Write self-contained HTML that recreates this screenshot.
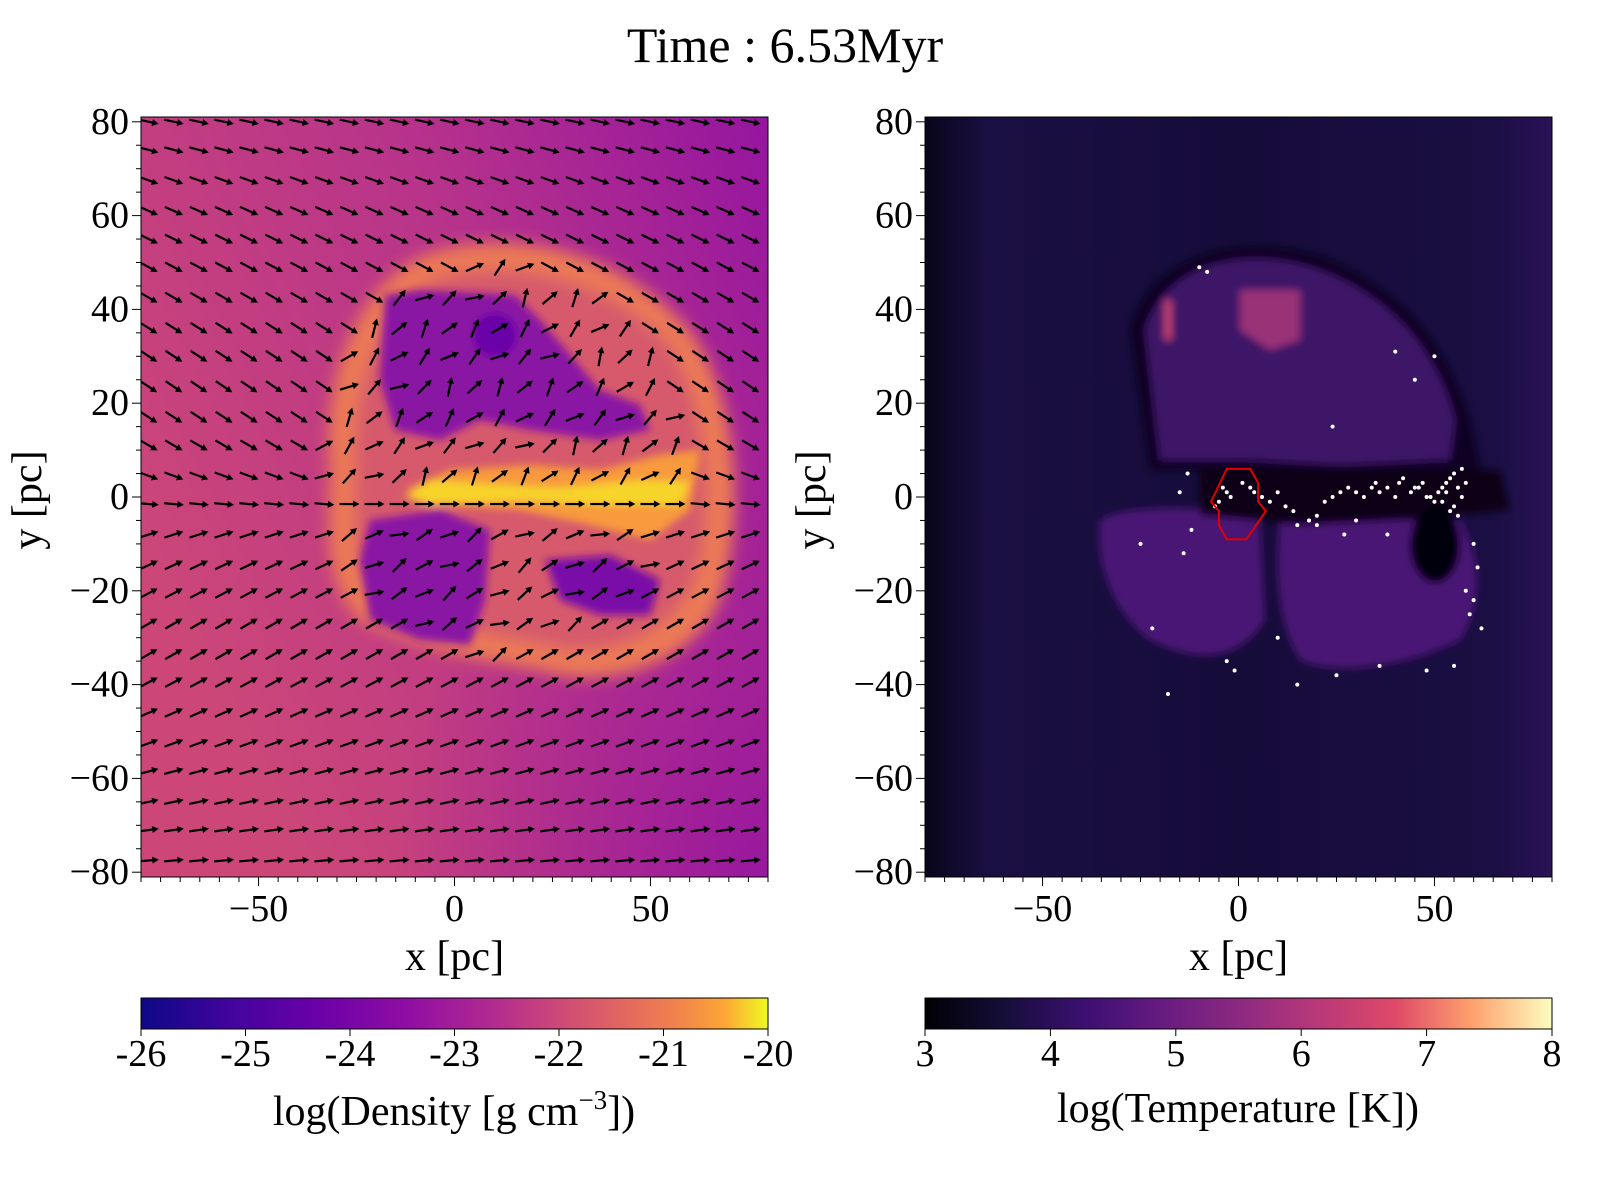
<!DOCTYPE html>
<html><head><meta charset="utf-8"><style>
html,body{margin:0;padding:0;background:#fff;}
svg{display:block;font-family:"Liberation Serif",serif;}
</style></head><body>
<svg id="fig" width="1600" height="1200" viewBox="0 0 1600 1200" xmlns="http://www.w3.org/2000/svg">
<defs>
<linearGradient id="plasma" x1="0" x2="1" y1="0" y2="0">
<stop offset="0" stop-color="#0d0887"/><stop offset="0.14" stop-color="#41049d"/><stop offset="0.28" stop-color="#6a00a8"/><stop offset="0.42" stop-color="#8f0da4"/><stop offset="0.56" stop-color="#b12a90"/><stop offset="0.66" stop-color="#cc4778"/><stop offset="0.76" stop-color="#e16462"/><stop offset="0.86" stop-color="#f2844b"/><stop offset="0.93" stop-color="#fca636"/><stop offset="1" stop-color="#f0f921"/></linearGradient>
<linearGradient id="magma" x1="0" x2="1" y1="0" y2="0">
<stop offset="0" stop-color="#000004"/><stop offset="0.12" stop-color="#140e36"/><stop offset="0.25" stop-color="#3b0f70"/><stop offset="0.37" stop-color="#641a80"/><stop offset="0.5" stop-color="#8c2981"/><stop offset="0.62" stop-color="#b73779"/><stop offset="0.75" stop-color="#de4968"/><stop offset="0.87" stop-color="#fe9f6d"/><stop offset="1" stop-color="#fcfdbf"/></linearGradient>
<linearGradient id="denBg" x1="0" y1="0.6" x2="1" y2="0">
<stop offset="0" stop-color="#cc4778"/><stop offset="0.55" stop-color="#b8348a"/><stop offset="1" stop-color="#9515a0"/></linearGradient>
<radialGradient id="denBR" cx="1" cy="1" r="0.6">
<stop offset="0" stop-color="#9515a0" stop-opacity="0.9"/><stop offset="1" stop-color="#9515a0" stop-opacity="0"/></radialGradient>
<linearGradient id="tempBg" x1="0" x2="1" y1="0" y2="0">
<stop offset="0" stop-color="#08051a"/><stop offset="0.1" stop-color="#1a0f42"/><stop offset="0.5" stop-color="#160c3a"/><stop offset="0.9" stop-color="#1a0e42"/><stop offset="1" stop-color="#2a1258"/></linearGradient>
<filter id="blur8" x="-30%" y="-30%" width="160%" height="160%"><feGaussianBlur stdDeviation="8"/></filter>
<filter id="blur4" x="-30%" y="-30%" width="160%" height="160%"><feGaussianBlur stdDeviation="4"/></filter>
<clipPath id="clipL"><rect x="141" y="117" width="627" height="760"/></clipPath>
<clipPath id="clipR"><rect x="925" y="117" width="627" height="760"/></clipPath>
</defs>
<text x="785" y="62" font-size="50" text-anchor="middle">Time : 6.53Myr</text>

<g clip-path="url(#clipL)">
<rect x="141" y="117" width="627" height="760" fill="url(#denBg)"/>
<rect x="141" y="117" width="627" height="760" fill="url(#denBR)"/>
<g filter="url(#blur8)">
<path d="M330,470 C320,380 360,270 440,250 C520,230 620,250 690,330 C740,400 745,520 720,600 C690,670 600,690 540,670 C480,660 420,650 360,620 C320,580 330,520 330,470 Z" fill="#ec7a55"/>
<path d="M355,470 C350,390 380,290 450,275 C520,260 610,280 670,345 C710,410 715,510 695,580 C670,640 600,660 545,645 C490,635 430,625 380,600 C350,570 355,520 355,470 Z" fill="#d65a6c"/>
</g>
<g filter="url(#blur4)">
<polygon points="385,295 420,290 515,295 540,320 600,390 640,405 650,430 600,440 530,430 480,420 440,440 395,430 380,380" fill="#8a12a4"/>
<circle cx="495" cy="335" r="22" fill="#6a00a8"/>
<polygon points="370,520 440,510 490,530 485,600 470,645 420,640 370,620 360,560" fill="#8a12a4"/>
<polygon points="545,560 610,555 660,580 650,615 600,615 560,600" fill="#7a08a8"/>
<polygon points="405,490 450,470 530,465 600,470 660,455 700,450 690,510 650,540 590,525 520,510 450,505" fill="#f89a3e"/>
<polygon points="405,497 430,480 500,485 560,488 640,480 690,482 680,505 600,505 520,500 430,505" fill="#f7d42a"/>
</g>
<g id="quiver"></g>
</g>
<rect x="141" y="117" width="627" height="760" fill="none" stroke="#000" stroke-width="1"/>

<g clip-path="url(#clipR)">
<rect x="925" y="117" width="627" height="760" fill="url(#tempBg)"/>
<g filter="url(#blur4)">
<path d="M1130,330 C1150,250 1250,230 1330,260 C1420,300 1450,360 1470,420 L1480,470 L1350,480 L1250,470 L1150,470 Z" fill="#0c0620"/>
<path d="M1145,330 C1165,260 1250,245 1320,270 C1400,300 1440,360 1455,420 L1450,460 L1340,465 L1250,460 L1160,460 Z" fill="#3e1468"/>
<path d="M1240,290 L1300,290 L1300,340 L1270,350 L1240,330 Z" fill="#9a3078"/>
<rect x="1164" y="300" width="8" height="40" fill="#c04070"/>
<path d="M1100,520 C1120,505 1200,505 1260,515 L1265,620 C1240,660 1200,665 1150,640 C1110,610 1095,560 1100,520 Z" fill="#4a1474"/>
<path d="M1280,520 L1460,520 C1485,560 1480,610 1460,640 C1400,670 1330,675 1300,660 C1275,620 1275,560 1280,520 Z" fill="#4a1474"/>
<path d="M1200,470 L1500,470 L1510,510 L1400,520 L1300,525 L1200,515 Z" fill="#080414"/>
<ellipse cx="1435" cy="545" rx="25" ry="38" fill="#050210"/>
</g>
<g id="stars"></g>
<polygon id="hexagon" fill="none" stroke="#e00000" stroke-width="2"/>
</g>
<rect x="925" y="117" width="627" height="760" fill="none" stroke="#000" stroke-width="1"/>

<g id="axes"></g>

<rect x="141" y="998" width="627" height="31" fill="url(#plasma)" stroke="#000" stroke-width="1"/>
<rect x="925" y="998" width="627" height="31" fill="url(#magma)" stroke="#000" stroke-width="1"/>
<g id="cbticks"></g>
<text x="454" y="1125" font-size="42" text-anchor="middle">log(Density [g cm<tspan font-size="27" dy="-16">−3</tspan><tspan dy="16">])</tspan></text>
<text x="1238" y="1122" font-size="42" text-anchor="middle">log(Temperature [K])</text>
</svg>
<script>
const NS="http://www.w3.org/2000/svg";
const xTicks=[-50,0,50];
const yTicks=[-80,-60,-40,-20,0,20,40,60,80];
const densTicks=[-26,-25,-24,-23,-22,-21,-20];
const tempTicks=[3,4,5,6,7,8];
const rowY=[80,74,67.5,61,55,49,42.5,36,30,23.5,17,11,4.5,-1.5,-8,-14.5,-20.5,-27,-33.5,-39.5,-46,-52.5,-58.5,-65,-71,-77.5];
const rowAngle=[12,15,20,24,26,28,30,32,33,34,33,30,20,5,-18,-25,-28,-30,-30,-28,-24,-20,-15,-12,-8,-5];
const colX=[-78,-71.6,-65.2,-58.8,-52.4,-46,-39.6,-33.2,-26.8,-20.4,-14,-7.6,-1.2,5.2,11.6,18,24.4,30.8,37.2,43.6,50,56.4,62.8,69.2,75.6];
const starX=[-4,-3,-2,-5,-6,1,3,4,6,8,10,12,14,15,18,20,22,24,26,28,30,32,34,35,36,38,40,41,42,44,45,46,47,48,50,51,52,53,54,55,56,57,55,54,56,53,57,58,52,49,-13,-15,-14,-25,-22,-18,-1,10,15,25,36,48,55,58,60,59,61,-10,-8,30,38,60,62,50,45,24,40,18,-12,-3,20,27];
const starY=[2,1,0,-1,-2,3,2,1,0,-1,1,-2,-3,-6,-5,-4,-1,0,1,2,1,0,2,3,1,2,0,3,4,1,2,2,3,0,-1,1,2,3,4,5,2,0,-2,-3,-4,1,6,3,-1,0,5,1,-12,-10,-28,-42,-37,-30,-40,-38,-36,-37,-36,-20,-10,-25,-15,49,48,-5,-8,-22,-28,30,25,15,31,-5,-7,-35,-6,-8];
const hexX=[-3,3,5,5,7,2,-3,-5,-5,-7];
const hexY=[6,6,3,-1,-3,-9,-9,-6,-3,-1];

const X0L=454.5,X0R=1238.5,XS=627/160,Y0=497,YS=4.69;
const xL=v=>X0L+v*XS, xR=v=>X0R+v*XS, yP=v=>Y0-v*YS;

const q=document.getElementById('quiver');
rowY.forEach((ry,ri)=>{colX.forEach((cx,ci)=>{
  let a=rowAngle[ri];
  const inBub=((cx-12)/46)**2+((ry-8)/42)**2<1;
  if(inBub){a = ry>3 ? -80+((ci*37+ri*13)%70) : (ry>-6? 0 : -50+((ci*17+ri*7)%45));}
  const r=a*Math.PI/180, L=10;
  const px=xL(cx), py=yP(ry);
  const dx=Math.cos(r)*L, dy=Math.sin(r)*L;
  const l=document.createElementNS(NS,'line');
  
  
  l.setAttribute('x1',px-dx);l.setAttribute('y1',py-dy);l.setAttribute('x2',px+dx*0.5);l.setAttribute('y2',py+dy*0.5);
  l.setAttribute('stroke','#000');l.setAttribute('stroke-width','2.2');
  q.appendChild(l);
  const h=document.createElementNS(NS,'polygon');
  
  
  const tx=px+dx, ty=py+dy, bx=px+dx*0.35, by=py+dy*0.35, nx=-Math.sin(r)*3.5, ny=Math.cos(r)*3.5;
  h.setAttribute('points',`${tx},${ty} ${bx+nx},${by+ny} ${bx-nx},${by-ny}`);
  q.appendChild(h);
});});

const st=document.getElementById('stars');
starX.forEach((sx,i)=>{
  const c=document.createElementNS(NS,'circle');
  
  
  c.setAttribute('cx',xR(sx));c.setAttribute('cy',yP(starY[i]));c.setAttribute('r','2');c.setAttribute('fill','#fff');
  st.appendChild(c);
});
document.getElementById('hexagon').setAttribute('points',hexX.map((h,i)=>xR(h)+','+yP(hexY[i])).join(' '));

const ax=document.getElementById('axes');
function add(tag,attrs,txt){const e=document.createElementNS(NS,tag);for(const k in attrs)e.setAttribute(k,attrs[k]);if(txt!==undefined)e.textContent=txt;ax.appendChild(e);return e;}
[[xL,141],[xR,925]].forEach(([fx,left],pi)=>{
  for(let v=-80;v<=80;v+=5){const m=v%50===0;const t=add('line',{x1:fx(v),x2:fx(v),y1:877,y2:877+(m?9:5),stroke:'#000'});}
  for(let v=-80;v<=80;v+=5){const m=v%20===0;const t=add('line',{x1:left,x2:left-(m?9:5),y1:yP(v),y2:yP(v),stroke:'#000'});}
  xTicks.forEach(v=>{const t=add('text',{x:fx(v),y:921,'font-size':38,'text-anchor':'middle'},v<0?'−'+(-v):String(v));});
  yTicks.forEach(v=>{const t=add('text',{x:left-12,y:yP(v)+12,'font-size':38,'text-anchor':'end'},v<0?'−'+(-v):String(v));});
  const xl=add('text',{x:fx(0),y:970,'font-size':42,'text-anchor':'middle'},'x [pc]');
  const yx=left-100;
  const yl=add('text',{x:yx,y:500,'font-size':42,'text-anchor':'middle',transform:`rotate(-90 ${yx} 500)`},'y [pc]');
});
const cb=document.getElementById('cbticks');
function cbt(ticks,lo,hi,left){ticks.forEach(v=>{const x=left+(v-lo)/(hi-lo)*627;
  const l=document.createElementNS(NS,'line');
  
  
  l.setAttribute('x1',x);l.setAttribute('x2',x);l.setAttribute('y1',1029);l.setAttribute('y2',1036);l.setAttribute('stroke','#000');cb.appendChild(l);
  const t=document.createElementNS(NS,'text');
  
  
  t.setAttribute('x',x);t.setAttribute('y',1066);t.setAttribute('font-size','38');t.setAttribute('text-anchor','middle');t.textContent=String(v);cb.appendChild(t);});}
cbt(densTicks,-26,-20,141);
cbt(tempTicks,3,8,925);
</script>
</body></html>
